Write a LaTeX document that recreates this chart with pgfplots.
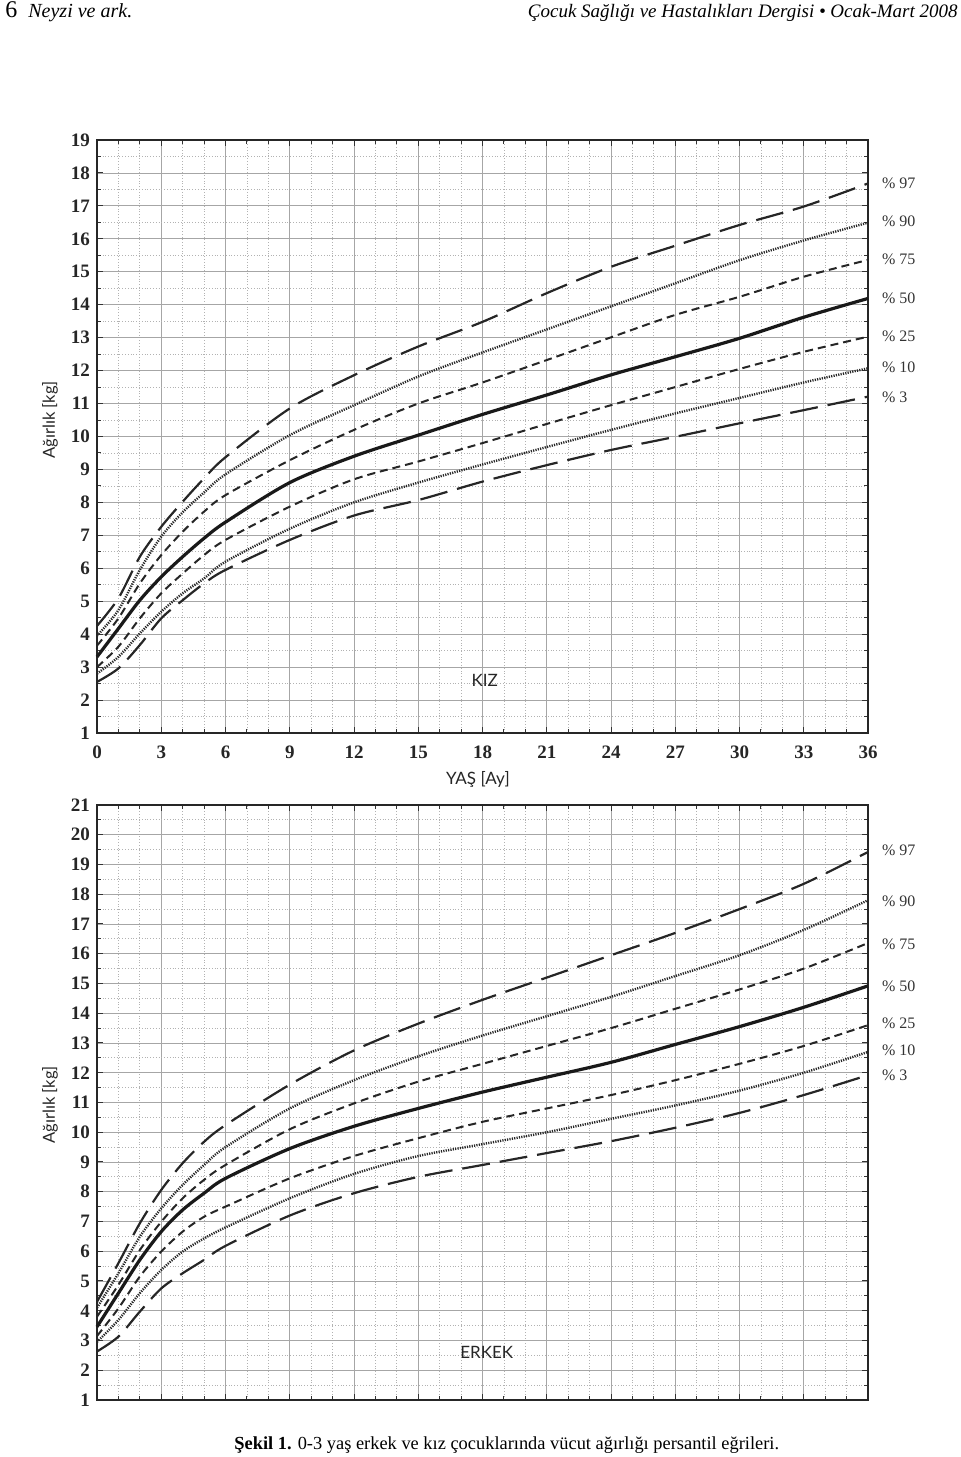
\documentclass[border=0pt]{standalone}
\usepackage{fontspec}
\setmainfont{Liberation Serif}
\newfontfamily\labfont{Lato}
\usepackage{pgfplots}
\usepackage{pgfplotstable}
\pgfplotsset{compat=1.18}

% KIZ (girls), weight in kg by month
\pgfplotstableread{
m  p3    p10   p25   p50   p75   p90   p97
0  2.55  2.80  3.00  3.31  3.65  3.95  4.25
1  2.96  3.31  3.62  4.17  4.48  4.73  5.09
2  3.67  4.02  4.48  5.03  5.54  5.95  6.35
3  4.48  4.68  5.24  5.74  6.40  6.96  7.26
4  5.03  5.24  5.84  6.35  7.11  7.70  8.02
5  5.54  5.69  6.40  6.91  7.72  8.30  8.73
6  5.95  6.20  6.86  7.40  8.22  8.85  9.37
9  6.86  7.20  7.87  8.60  9.28  10.04 10.85
12 7.60  8.00  8.70  9.40  10.20 10.95 11.86
15 8.07  8.60  9.24  10.04 11.00 11.82 12.73
18 8.63  9.15  9.80  10.67 11.64 12.55 13.48
21 9.13  9.68  10.38 11.26 12.32 13.25 14.35
24 9.59  10.20 10.95 11.87 13.01 13.95 15.15
27 9.99  10.70 11.50 12.42 13.69 14.65 15.79
30 10.40 11.17 12.05 12.98 14.24 15.35 16.42
33 10.80 11.64 12.57 13.62 14.85 15.95 16.98
36 11.21 12.07 13.03 14.19 15.36 16.49 17.68
}\kiz

% ERKEK (boys)
\pgfplotstableread{
m  p3    p10   p25   p50   p75   p90   p97
0  2.63  2.95  3.15  3.46  3.80  4.10  4.30
1  3.13  3.69  4.08  4.59  4.87  5.26  5.60
2  3.97  4.59  5.15  5.71  6.04  6.49  6.94
3  4.75  5.37  5.99  6.66  6.99  7.44  8.06
4  5.26  5.99  6.66  7.39  7.78  8.23  8.96
5  5.71  6.43  7.16  7.95  8.40  8.90  9.68
6  6.18  6.80  7.50  8.45  8.90  9.50  10.24
9  7.20  7.78  8.45  9.45  10.10 10.80 11.60
12 7.95  8.60  9.20  10.20 10.97 11.75 12.75
15 8.50  9.20  9.80  10.80 11.70 12.55 13.65
18 8.90  9.60  10.35 11.35 12.30 13.25 14.45
21 9.30  10.00 10.80 11.85 12.90 13.90 15.20
24 9.70  10.45 11.25 12.35 13.50 14.55 15.95
27 10.15 10.90 11.75 12.95 14.15 15.25 16.70
30 10.65 11.40 12.30 13.55 14.80 15.95 17.50
33 11.25 12.00 12.90 14.20 15.50 16.80 18.35
36 11.92 12.70 13.60 14.92 16.36 17.80 19.42
}\erkek

\pgfplotsset{
  growth/.style={
    scale only axis, width=385.5pt, anchor=south west,
    xmin=0, xmax=36, xtick={0,3,...,36}, minor x tick num=2,
    ytick distance=1, minor y tick num=1,
    xmajorgrids, ymajorgrids, xminorgrids, yminorgrids,
    major grid style={black!35, line width=0.4pt},
    minor grid style={black!30, densely dotted, line width=0.4pt},
    axis line style={black!85, line width=1.1pt},
    tick style={black!80, line width=0.5pt},
    major tick length=3pt, minor tick length=2pt,
    tick label style={font=\fontsize{9.5}{10}\selectfont\bfseries, black!85},
    /pgf/number format/assume math mode=true,
    xticklabel style={yshift=-3pt},
    ylabel style={font=\labfont\fontsize{8.3}{9}\selectfont, black!85, anchor=center},
    xlabel style={font=\labfont\fontsize{8.5}{10}\selectfont, black!85, anchor=center},
    clip=false,
  },
  p97/.style={black!85, line width=1.1pt, dash pattern=on 14pt off 5pt, smooth},
  p90/.style={black!85, line width=1.2pt, dash pattern=on 0.6pt off 0.6pt, smooth},
  p75/.style={black!85, line width=1pt, dash pattern=on 4pt off 2.5pt, smooth},
  p50/.style={black!90, line width=1.6pt, smooth},
}
\tikzset{pl/.style={anchor=west, xshift=3.5pt, font=\fontsize{8}{9}\selectfont, black!80}}

\begin{document}
\begin{tikzpicture}
\useasboundingbox (0,0) rectangle (480pt,728.5pt);

\node[anchor=base west, font=\fontsize{12}{13}\selectfont, inner sep=0pt] at (2.5pt,719.5pt) {6};
\node[anchor=base west, font=\fontsize{10}{12}\selectfont\itshape, inner sep=0pt] at (14pt,719.5pt) {Neyzi ve ark.};
\node[anchor=base east, font=\fontsize{9.5}{12}\selectfont\itshape, inner sep=0pt] at (479pt,719.5pt) {Çocuk Sağlığı ve Hastalıkları Dergisi \textbullet{} Ocak-Mart 2008};

% KIZ
\begin{axis}[growth, at={(48.5pt,362pt)}, height=296.5pt,
    ymin=1, ymax=19,
    xlabel={YAŞ [Ay]}, xlabel style={at={(axis description cs:0.494,-0.078)}},
    ylabel={Ağırlık [kg]}, ylabel style={at={(axis description cs:-0.061,0.528)}}]
\addplot[p97] table[x=m,y=p97] {\kiz};
\addplot[p90] table[x=m,y=p90] {\kiz};
\addplot[p75] table[x=m,y=p75] {\kiz};
\addplot[p50] table[x=m,y=p50] {\kiz};
\addplot[p75] table[x=m,y=p25] {\kiz};
\addplot[p90] table[x=m,y=p10] {\kiz};
\addplot[p97] table[x=m,y=p3]  {\kiz};
\node[pl] at (axis cs:36,17.69) {\% 97};
\node[pl] at (axis cs:36,16.54) {\% 90};
\node[pl] at (axis cs:36,15.39) {\% 75};
\node[pl] at (axis cs:36,14.20) {\% 50};
\node[pl] at (axis cs:36,13.05) {\% 25};
\node[pl] at (axis cs:36,12.11) {\% 10};
\node[pl] at (axis cs:36,11.20) {\% 3};
\node[font=\labfont\fontsize{8.5}{10}\selectfont, black!85] at (axis cs:18.1,2.61) {KIZ};
\end{axis}

% ERKEK
\begin{axis}[growth, at={(48.5pt,28.5pt)}, height=297.5pt,
    ymin=1, ymax=21, xticklabels={},
    ylabel={Ağırlık [kg]}, ylabel style={at={(axis description cs:-0.061,0.496)}}]
\addplot[p97] table[x=m,y=p97] {\erkek};
\addplot[p90] table[x=m,y=p90] {\erkek};
\addplot[p75] table[x=m,y=p75] {\erkek};
\addplot[p50] table[x=m,y=p50] {\erkek};
\addplot[p75] table[x=m,y=p25] {\erkek};
\addplot[p90] table[x=m,y=p10] {\erkek};
\addplot[p97] table[x=m,y=p3]  {\erkek};
\node[pl] at (axis cs:36,19.49) {\% 97};
\node[pl] at (axis cs:36,17.77) {\% 90};
\node[pl] at (axis cs:36,16.33) {\% 75};
\node[pl] at (axis cs:36,14.92) {\% 50};
\node[pl] at (axis cs:36,13.67) {\% 25};
\node[pl] at (axis cs:36,12.76) {\% 10};
\node[pl] at (axis cs:36,11.92) {\% 3};
\node[font=\labfont\fontsize{8.5}{10}\selectfont, black!85] at (axis cs:18.2,2.61) {ERKEK};
\end{axis}

\node[anchor=base west, font=\fontsize{9.2}{11}\selectfont, inner sep=0pt] at (117pt,4pt)
  {\textbf{Şekil 1.} 0-3 yaş erkek ve kız çocuklarında vücut ağırlığı persantil eğrileri.};
\end{tikzpicture}
\end{document}
